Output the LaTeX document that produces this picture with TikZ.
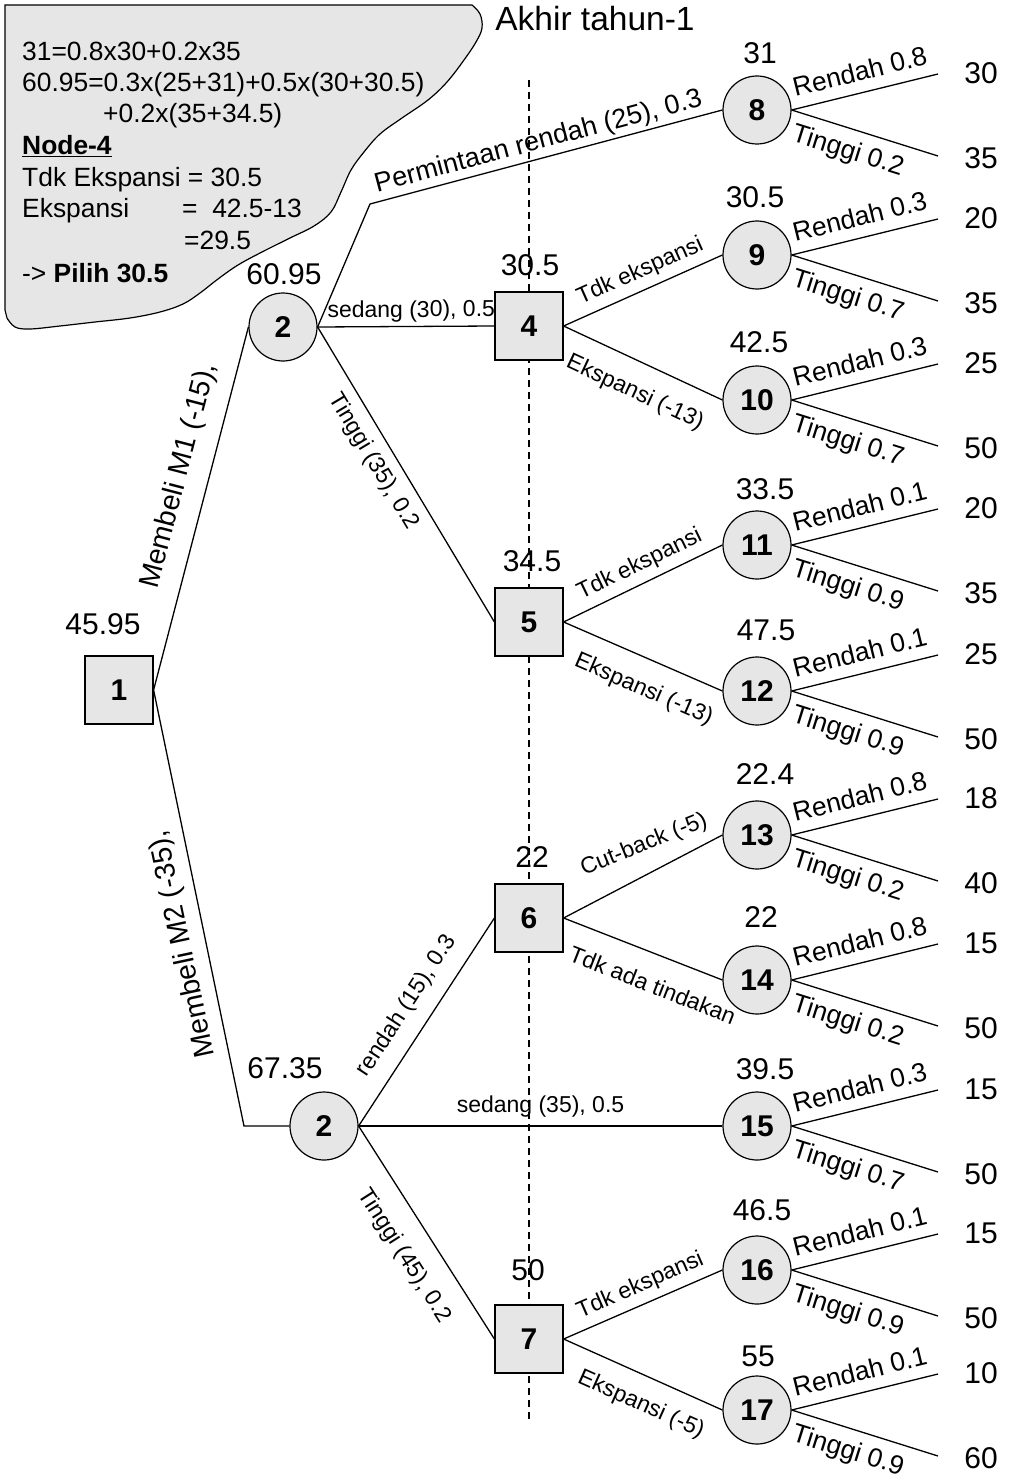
\documentclass[tikz,border=0pt]{standalone}
\usepackage{fontspec}
\setmainfont{Liberation Sans}
\definecolor{nf}{RGB}{230,230,230}
\begin{document}
\begin{tikzpicture}[x=1pt,y=-1pt]
\tikzset{
  dec/.style={draw, fill=nf, line width=1.2pt, minimum width=68pt, minimum height=68pt, inner sep=0pt, font=\fontsize{30}{32}\selectfont\bfseries},
  chn/.style={circle, draw, fill=nf, line width=1.2pt, minimum size=68pt, inner sep=0pt, font=\fontsize{30}{32}\selectfont\bfseries},
  num/.style={font=\fontsize{30}{32}\selectfont, inner sep=0pt},
  edge/.style={line width=1.3pt},
  labr/.style={font=\fontsize{23}{25}\selectfont, inner sep=0pt},
  lab/.style={labr, sloped},
  leaf/.style={font=\fontsize{26.5}{28}\selectfont, sloped, inner sep=0pt},
  big/.style={font=\fontsize{27}{29}\selectfont, inner sep=0pt},
  bigger/.style={font=\fontsize{28.5}{30}\selectfont, inner sep=0pt},
  note/.style={font=\fontsize{26.4}{28}\selectfont, inner sep=0pt, anchor=base west},
  dashline/.style={dash pattern=on 7pt off 5pt, line width=1.2pt},
}
\useasboundingbox (0,0) rectangle (1024,1479);

% annotation cloud
\filldraw[fill=nf, line width=1.2pt] (5,310) -- (5,5) -- plot[smooth, tension=0.6] coordinates {(472,5) (480,14) (482,28) (476,42) (464,60) (447,82) (428,100) (402,118) (380,134) (364,152) (351,170) (341,192) (331,212) (314,226) (290,238) (262,252) (238,265) (218,279) (200,293) (183,304) (160,312) (130,318) (95,322) (60,326) (30,329) (15,327) (7,318)} -- cycle;
\node[note] (t1) at (22,61) {31=0.8x30+0.2x35};
\node[note] (t2) at (22,92) {60.95=0.3x(25+31)+0.5x(30+30.5)};
\node[note] (t3) at (103,123) {+0.2x(35+34.5)};
\node[note] (t4) at (22,155) {\underline{\textbf{Node-4}}};
\node[note] (t5) at (22,187) {Tdk Ekspansi = 30.5};
\node[note] (t6) at (22,218) {Ekspansi};
\node[note] (t6b) at (182,218) {= \ 42.5-13};
\node[note] (t7) at (184,250) {=29.5};
\node[note] (t8) at (22,282) {-> \textbf{Pilih 30.5}};

% title and time line
\node[font=\fontsize{33.5}{35}\selectfont, inner sep=0pt] (title) at (595,19) {Akhir tahun-1};
\coordinate (dtop) at (529,80);
\coordinate (dbot) at (529,1420);
\draw[dashline] (dtop) -- (dbot);

% decision / chance nodes
\node[dec] (n1) at (119,690) {1};
\node[chn] (n2a) at (283,327) {2};
\node[chn] (n2b) at (324,1126) {2};
\node[dec] (n4) at (529,326) {4};
\node[dec] (n5) at (529,622) {5};
\node[dec] (n6) at (529,918) {6};
\node[dec] (n7) at (529,1339) {7};

\node[num] (w1) at (103,624) {45.95};
\node[num] (w2a) at (284,274) {60.95};
\node[num] (w2b) at (285,1068) {67.35};
\node[num] (w4) at (530,265) {30.5};
\node[num] (w5) at (532,561) {34.5};
\node[num] (w6) at (532,857) {22};
\node[num] (w7) at (528,1270) {50};

\foreach \nn/\yy/\nv/\lo/\hi/\va/\vb/\vx/\vy in {
  8/110/31/0.8/0.2/30/35/760/53,
  9/255/30.5/0.3/0.7/20/35/755/197,
  10/400/42.5/0.3/0.7/25/50/759/342,
  11/545/33.5/0.1/0.9/20/35/765/489,
  12/691/47.5/0.1/0.9/25/50/766/630,
  13/835/22.4/0.8/0.2/18/40/765/774,
  14/980/22/0.8/0.2/15/50/761/917,
  15/1126/39.5/0.3/0.7/15/50/765/1069,
  16/1270/46.5/0.1/0.9/15/50/762/1210,
  17/1410/55/0.1/0.9/10/60/758/1356}{
  \node[chn] (n\nn) at (757,\yy) {\nn};
  \node[num] (w\nn) at (\vx,\vy) {\nv};
  \coordinate (u\nn) at (938,\yy-36);
  \coordinate (d\nn) at (938,\yy+46);
  \draw[edge] (n\nn.east) -- node[leaf, above=11pt] {Rendah \lo} (u\nn);
  \draw[edge] (n\nn.east) -- node[leaf, below=10pt, pos=0.43] {Tinggi \hi} (d\nn);
  \node[num] (a\nn) at (981,\yy-37) {\va};
  \node[num] (b\nn) at (981,\yy+48) {\vb};
}

% first-stage connectors
\coordinate (k1) at (370,204);
\coordinate (k2) at (244,1126);
\draw[edge] (n1.east) -- node[bigger, sloped, above=15pt, pos=0.57] {Membeli M1 (-15),} (n2a.west);
\draw[edge] (n1.east) -- (k2) -- (n2b.west);
\node[bigger, rotate=102] (m2) at (183,944) {Membeli M2 (-35),};

\draw[edge] (n2a.east) -- (k1) -- node[big, sloped, above=3pt, pos=0.49] {Permintaan rendah (25), 0.3} (n8.west);
\draw[edge] (n2a.east) -- node[lab, above=4pt, pos=0.53] {sedang (30), 0.5} (n4.west);
\draw[edge] (n2a.east) -- node[lab, below=10pt, pos=0.42] {Tinggi (35), 0.2} (n5.west);

\draw[edge] (n2b.east) -- node[lab, above=14pt, pos=0.51] {rendah (15), 0.3} (n6.west);
\draw[edge] (n2b.east) -- node[lab, above=8pt] {sedang (35), 0.5} (n15.west);
\draw[edge] (n2b.east) -- node[lab, below=20pt, pos=0.53] {Tinggi (45), 0.2} (n7.west);

% second-stage decisions
\draw[edge] (n4.east) -- node[lab, above=7pt, pos=0.53] {Tdk ekspansi} (n9.west);
\draw[edge] (n4.east) -- node[lab, below=19pt, pos=0.53] {Ekspansi (-13)} (n10.west);
\draw[edge] (n5.east) -- node[lab, above=7pt, pos=0.53] {Tdk ekspansi} (n11.west);
\draw[edge] (n5.east) -- node[lab, below=19pt, pos=0.58] {Ekspansi (-13)} (n12.west);
\draw[edge] (n6.east) -- (n13.west);
\node[labr, rotate=22] (lcb) at (644,845) {Cut-back (-5)};
\draw[edge] (n6.east) -- node[lab, below=21pt, pos=0.63] {Tdk ada tindakan} (n14.west);
\draw[edge] (n7.east) -- node[lab, above=7pt, pos=0.53] {Tdk ekspansi} (n16.west);
\draw[edge] (n7.east) -- node[lab, below=17pt, pos=0.56] {Ekspansi (-5)} (n17.west);
\end{tikzpicture}
\end{document}
